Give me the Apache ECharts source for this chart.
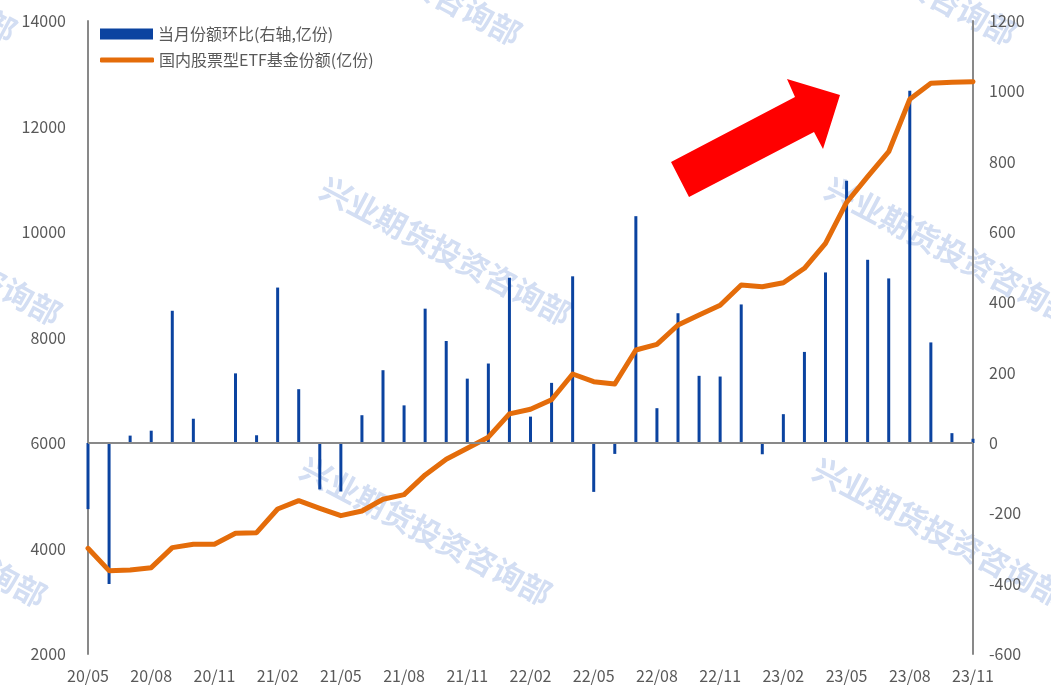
<!DOCTYPE html>
<html>
<head>
<meta charset="utf-8">
<title>国内股票型ETF基金份额</title>
<script src="https://cdn.jsdelivr.net/npm/echarts@6/dist/echarts.min.js"></script>
<style>
  html, body { margin: 0; padding: 0; background: #fff; }
  #chart { width: 1051px; height: 687px; }
</style>
</head>
<body>
<div id="chart"></div>
<script>
  // 月份 20/05 ~ 23/11
  var months = ['20/05', '20/06', '20/07', '20/08', '20/09', '20/10', '20/11', '20/12',
    '21/01', '21/02', '21/03', '21/04', '21/05', '21/06', '21/07', '21/08', '21/09', '21/10', '21/11', '21/12',
    '22/01', '22/02', '22/03', '22/04', '22/05', '22/06', '22/07', '22/08', '22/09', '22/10', '22/11', '22/12',
    '23/01', '23/02', '23/03', '23/04', '23/05', '23/06', '23/07', '23/08', '23/09', '23/10', '23/11']
  // 当月份额环比(右轴,亿份)
  var monthChange = [-188, -401, 21, 35, 376, 69, 2, 198, 22, 442, 153, -132, -138, 79, 207, 107, 382, 290, 183, 226,
    470, 75, 171, 474, -139, -31, 645, 99, 369, 191, 189, 394, -32, 82, 259, 485, 746, 521, 468, 1002, 286, 28, 12]
  // 国内股票型ETF基金份额(亿份)
  var etfShares = [4004, 3580, 3593, 3637, 4016, 4080, 4080, 4288, 4300, 4749, 4907, 4762, 4623, 4712, 4934, 5022,
    5395, 5692, 5901, 6110, 6552, 6641, 6820, 7308, 7162, 7119, 7763, 7871, 8237, 8427, 8610, 8995, 8963, 9039,
    9312, 9786, 10560, 11049, 11522, 12516, 12820, 12838, 12850]
  var barName = '当月份额环比(右轴,亿份)'
  var lineName = '国内股票型ETF基金份额(亿份)'

  var font = '"Noto Sans CJK SC", "Noto Sans", sans-serif'
  var axisGray = '#898989'
  var textGray = '#595959'

  // 水印
  var wmText = '兴业期货投资咨询部'
  var wmSpots = [[-109, -32], [396, -29], [891, -29], [-64, 251], [446, 251], [951, 251], [-79, 533], [426, 531], [939, 532]]
  var graphics = wmSpots.map(function (p) {
    return {
      type: 'text',
      x: p[0],
      y: p[1],
      rotation: -28 * Math.PI / 180,
      z: 0,
      silent: true,
      style: {
        text: wmText,
        fill: '#d3def3',
        font: 'bold 31px ' + font,
        align: 'center',
        verticalAlign: 'middle'
      }
    }
  })
  // 红色箭头
  graphics.push({
    type: 'polygon',
    z: 100,
    silent: true,
    shape: {
      points: [[671, 162], [795, 97], [787, 79], [840, 95], [823, 149], [814, 132], [689, 197]]
    },
    style: { fill: '#ff0000' }
  })

  var plain = function (v) { return String(v) }

  var myChart = echarts.init(document.getElementById('chart'))
  var option = {
    animation: false,
    backgroundColor: '#ffffff',
    textStyle: { fontFamily: font },
    grid: { left: 88, right: 78, top: 21, bottom: 33, containLabel: false },
    legend: [
      {
        left: 100,
        top: 26,
        padding: 0,
        itemWidth: 53,
        itemHeight: 11,
        textStyle: { color: textGray, fontSize: 16, fontFamily: font },
        data: [{ name: barName, icon: 'rect' }]
      },
      {
        left: 100,
        top: 51,
        padding: 0,
        itemWidth: 54,
        itemHeight: 5,
        textStyle: { color: textGray, fontSize: 16, fontFamily: font, lineHeight: 18 },
        data: [{ name: lineName, icon: 'roundRect' }]
      }
    ],
    graphic: graphics,
    xAxis: {
      type: 'category',
      data: months,
      boundaryGap: false,
      axisLine: { show: false },
      axisTick: { show: false },
      axisLabel: { interval: 2, color: textGray, fontSize: 16, margin: 14, fontFamily: font },
      splitLine: { show: false }
    },
    yAxis: [
      {
        type: 'value',
        min: 2000,
        max: 14000,
        interval: 2000,
        axisLine: { show: true, lineStyle: { color: axisGray, width: 2 } },
        axisTick: { show: false },
        axisLabel: { color: textGray, fontSize: 16, margin: 22, fontFamily: font, formatter: plain },
        splitLine: { show: false }
      },
      {
        type: 'value',
        min: -600,
        max: 1200,
        interval: 200,
        position: 'right',
        axisLine: { show: true, lineStyle: { color: axisGray, width: 2 } },
        axisTick: { show: false },
        axisLabel: { color: textGray, fontSize: 16, margin: 16, fontFamily: font, formatter: plain },
        splitLine: { show: false }
      }
    ],
    series: [
      {
        name: barName,
        type: 'bar',
        yAxisIndex: 1,
        data: monthChange,
        barWidth: 3,
        z: 2,
        itemStyle: { color: '#0b43a0' },
        markLine: {
          silent: true,
          symbol: 'none',
          label: { show: false },
          lineStyle: { color: axisGray, width: 2, type: 'solid' },
          data: [{ yAxis: 0 }]
        }
      },
      {
        name: lineName,
        type: 'line',
        yAxisIndex: 0,
        data: etfShares,
        symbol: 'none',
        showSymbol: false,
        z: 3,
        itemStyle: { color: '#e46c0a' },
        lineStyle: { color: '#e46c0a', width: 5, cap: 'round', join: 'round' }
      }
    ]
  }
  myChart.setOption(option)
</script>
</body>
</html>
